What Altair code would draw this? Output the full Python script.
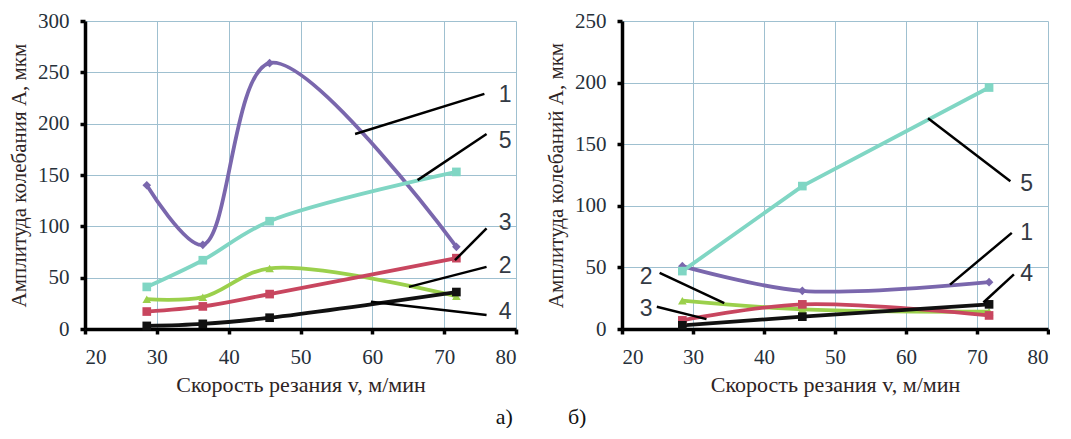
import altair as alt
import pandas as pd

# ---- data ----
series_names = ["1", "2", "3", "4", "5"]
series_colors = ["#7a67ad", "#9bd04c", "#c8465f", "#111111", "#80d6c4"]
series_shapes = ["diamond", "triangle-up", "square", "square", "square"]

speeds_a = [28.6, 36.4, 45.7, 71.7]
a1 = [140, 82, 259, 80]
a2 = [29, 31, 59, 32]
a3 = [17, 22, 34, 69]
a4 = [3, 5, 11, 36]
a5 = [41, 67, 105, 153]

speeds_b = [28.5, 45.4, 71.7]
b1 = [51, 31, 38]
b2 = [23, 16, 14]
b3 = [7, 20, 11]
b4 = [3, 10, 20]
b5 = [47, 116, 196]

# leader lines (start x, start y, end x, end y) and label positions
lead_a_x = [57.6, 66.3, 71.5, 65.1, 59.8]
lead_a_y = [190, 145, 67, 41, 26.5]
lead_a_x2 = [75.6, 75.9, 75.9, 75.9, 75.9]
lead_a_y2 = [229, 190, 98, 60.5, 13.6]
lab_a_text = ["1", "5", "3", "2", "4"]
lab_a_x = [77.6, 77.6, 77.6, 77.6, 77.6]
lab_a_y = [228, 183, 103, 61, 17]

lead_b_x = [63.1, 66.2, 70.9, 25.3, 24.9]
lead_b_y = [171, 36, 21.5, 45.5, 18]
lead_b_x2 = [74.7, 74.9, 75.2, 34.4, 31.9]
lead_b_y2 = [120, 78, 44.4, 21, 8]
lab_b_text = ["5", "1", "4", "2", "3"]
lab_b_x = [76.1, 76.1, 76.1, 22.5, 22.5]
lab_b_y = [118, 78, 45, 42, 16]

x_ticks = [20, 30, 40, 50, 60, 70, 80]
x_title = "Скорость резания v, м/мин"
y_title_a = "Амплитуда колебания А, мкм"
y_title_b = "Амплитуда колебаний А, мкм"
caption = "а)" + "\u00a0" * 10 + "б)"

SERIF = "Liberation Serif"
SANS = "Liberation Sans"


def long_df(speeds, values):
    rows = []
    for name, vals in zip(series_names, values):
        for s, v in zip(speeds, vals):
            rows.append({"v": s, "A": v, "series": name})
    return pd.DataFrame(rows)


def panel(speeds, values, lx, ly, lx2, ly2, tt, tx, ty, ymax, ystep, ytitle, straight, w, h):
    df = long_df(speeds, values)
    xs = alt.Scale(domain=[20, 80], nice=False)
    ys = alt.Scale(domain=[0, ymax], nice=False)
    color = alt.Color("series:N", scale=alt.Scale(domain=series_names, range=series_colors), legend=None)
    shape = alt.Shape("series:N", scale=alt.Scale(domain=series_names, range=series_shapes), legend=None)
    xenc = alt.X("v:Q", scale=xs, axis=alt.Axis(values=x_ticks, title=x_title, titlePadding=7,
                                                 labelPadding=12, titleFontSize=22))
    yenc = alt.Y("A:Q", scale=ys,
                 axis=alt.Axis(values=list(range(0, ymax + 1, ystep)), title=ytitle, titlePadding=8,
                               labelPadding=11, titleFontSize=21))
    base = alt.Chart(df)
    smooth = base.transform_filter(
        alt.FieldOneOfPredicate(field="series", oneOf=[s for s in series_names if s not in straight])
    ).mark_line(interpolate="catmull-rom", strokeWidth=3.8).encode(x=xenc, y=yenc, color=color, detail="series:N")
    layers = [smooth]
    if straight:
        lin = base.transform_filter(
            alt.FieldOneOfPredicate(field="series", oneOf=straight)
        ).mark_line(strokeWidth=3.8).encode(x=xenc, y=yenc, color=color, detail="series:N")
        layers.append(lin)
    pts = base.mark_point(filled=True, size=75, opacity=1).encode(x=xenc, y=yenc, color=color, shape=shape)
    layers.append(pts)
    ldf = pd.DataFrame({"x": lx, "y": ly, "x2": lx2, "y2": ly2})
    leaders = alt.Chart(ldf).mark_rule(color="black", strokeWidth=2.5).encode(
        x=alt.X("x:Q", scale=xs), y=alt.Y("y:Q", scale=ys), x2="x2:Q", y2="y2:Q")
    layers.append(leaders)
    tdf = pd.DataFrame({"t": tt, "x": tx, "y": ty})
    texts = alt.Chart(tdf).mark_text(font=SANS, fontSize=23, color="#333a44", align="left",
                                     baseline="middle").encode(
        x=alt.X("x:Q", scale=xs), y=alt.Y("y:Q", scale=ys), text="t:N")
    layers.append(texts)
    return alt.layer(*layers).properties(width=w, height=h)


left = panel(speeds_a, [a1, a2, a3, a4, a5], lead_a_x, lead_a_y, lead_a_x2, lead_a_y2,
             lab_a_text, lab_a_x, lab_a_y, 300, 50, y_title_a, [], 431, 308)
right = panel(speeds_b, [b1, b2, b3, b4, b5], lead_b_x, lead_b_y, lead_b_x2, lead_b_y2,
              lab_b_text, lab_b_x, lab_b_y, 250, 50, y_title_b, ["4", "5"], 426, 308)

chart = alt.hconcat(left, right, spacing=27).properties(
    title=alt.TitleParams(text=caption, orient="bottom", anchor="middle", font=SERIF,
                          fontSize=22, fontWeight="normal", color="#111111", offset=12, dx=12),
    padding={"left": 0, "top": 2, "right": 0, "bottom": 0},
).configure_view(stroke=None).configure_axis(
    domainColor="black", domainWidth=3.5, tickColor="black", tickWidth=3.5, tickSize=5,
    gridColor="#9fc0d0", gridWidth=1, labelFont=SERIF, labelFontSize=21, labelColor="#26303a",
    titleFont=SERIF, titleFontWeight="normal", titleColor="#2e2424"
)

chart.save("out.html", embed_options={"renderer": "svg", "actions": False})
